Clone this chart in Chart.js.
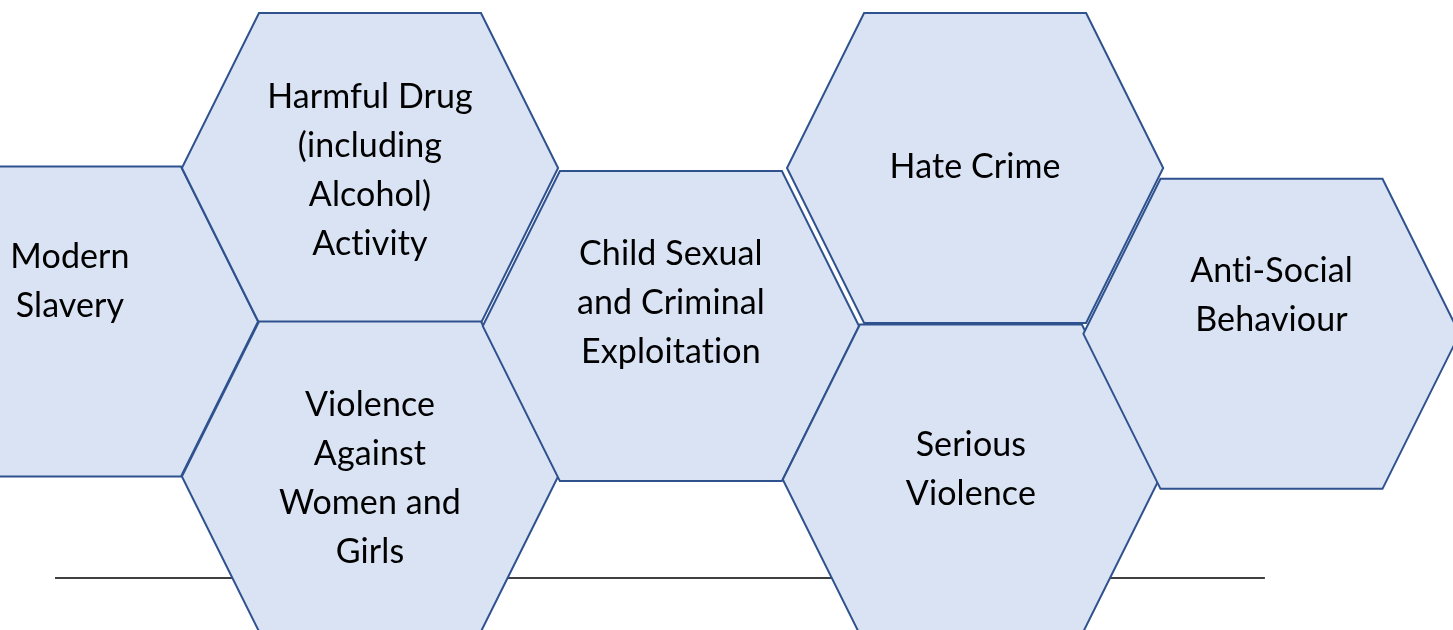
<!DOCTYPE html>
<html lang="en">
<head>
    <meta charset="UTF-8">
    <title>Community Safety Priorities</title>
    <style>
        body {
            margin: 0;
            padding: 0;
            background-color: #fff;
        }

        #wrap {
            width: 1453px;
            height: 630px;
            position: relative;
        }
    </style>
    <script src="https://cdn.jsdelivr.net/npm/chart.js"></script>
</head>
<body>
    <div id="wrap">
        <canvas id="hexChart" width="1453" height="630"></canvas>
    </div>

    <script>
        // Topics shown in the honeycomb, one label (split in lines) per cell
        const topics = [
            ['Modern', 'Slavery'],
            ['Harmful Drug', '(including', 'Alcohol)', 'Activity'],
            ['Violence', 'Against', 'Women and', 'Girls'],
            ['Child Sexual', 'and Criminal', 'Exploitation'],
            ['Hate Crime'],
            ['Serious', 'Violence'],
            ['Anti-Social', 'Behaviour']
        ];
        // Cell centres in honeycomb units (column, half-row)
        const cellCol = [0, 1, 1, 2.003, 3.017, 3.003, 4.005];
        const cellRow = [0.99, 0, 1.99, 1.02, 0, 2.01, 1.07];
        // Where the label block sits in each cell (half-row units)
        const labelRow = [0.733, 0.018, 2.003, 0.873, -0.007, 1.943, 0.823];

        // Horizontal rule behind the cells
        const ruleCol = [-0.05, 3.983];
        const ruleRow = 2.645;

        // Hexagon shape: half width, half top edge (column units), half height (row units)
        const hexShape = { halfW: 0.627, halfTop: 0.37, halfH: 1.0 };

        const hexPlugin = {
            id: 'hexCells',
            afterDatasetsDraw(chart) {
                const ctx = chart.ctx;
                const xs = chart.scales.x;
                const ys = chart.scales.y;
                const meta = chart.getDatasetMeta(1);
                meta.data.forEach(function(pt, i) {
                    const cx = cellCol[i];
                    const cy = cellRow[i];
                    const pts = [
                        [cx - hexShape.halfTop, cy - hexShape.halfH],
                        [cx + hexShape.halfTop, cy - hexShape.halfH],
                        [cx + hexShape.halfW, cy],
                        [cx + hexShape.halfTop, cy + hexShape.halfH],
                        [cx - hexShape.halfTop, cy + hexShape.halfH],
                        [cx - hexShape.halfW, cy]
                    ];
                    ctx.save();
                    ctx.beginPath();
                    pts.forEach(function(p, j) {
                        const px = xs.getPixelForValue(p[0]);
                        const py = ys.getPixelForValue(p[1]);
                        if (j === 0) ctx.moveTo(px, py); else ctx.lineTo(px, py);
                    });
                    ctx.closePath();
                    ctx.fillStyle = '#dae3f3';
                    ctx.fill();
                    ctx.lineWidth = 2;
                    ctx.strokeStyle = '#2f528f';
                    ctx.lineJoin = 'miter';
                    ctx.stroke();
                    ctx.restore();
                });

                // labels on top of every cell
                ctx.save();
                ctx.fillStyle = '#000';
                ctx.font = '34px Lato';
                ctx.letterSpacing = '0.1px'; // keeps "ti" from turning into a ligature
                ctx.textAlign = 'center';
                ctx.textBaseline = 'middle';
                const lineH = 49;
                meta.data.forEach(function(pt, i) {
                    const lines = topics[i];
                    const tx = pt.x;
                    const ty = ys.getPixelForValue(labelRow[i]);
                    const top = ty - (lines.length - 1) * lineH / 2;
                    lines.forEach(function(t, k) {
                        ctx.fillText(t, tx, top + k * lineH);
                    });
                });
                ctx.restore();
            }
        };

        const ctx = document.getElementById('hexChart').getContext('2d');
        new Chart(ctx, {
            type: 'scatter',
            data: {
                datasets: [
                    {
                        type: 'line',
                        label: 'rule',
                        data: ruleCol.map(function(c) { return { x: c, y: ruleRow }; }),
                        borderColor: '#000',
                        borderWidth: 1.5,
                        pointRadius: 0,
                        fill: false
                    },
                    {
                        label: 'cells',
                        data: cellCol.map(function(c, i) { return { x: c, y: cellRow[i] }; }),
                        pointRadius: 0,
                        pointHoverRadius: 0
                    }
                ]
            },
            options: {
                responsive: false,
                maintainAspectRatio: false,
                animation: false,
                layout: { padding: 0 },
                plugins: {
                    legend: { display: false },
                    tooltip: { enabled: false }
                },
                scales: {
                    x: { type: 'linear', display: false, min: -0.2333, max: 4.61 },
                    y: { type: 'linear', display: false, reverse: true, min: -1.0839, max: 2.9806 }
                }
            },
            plugins: [hexPlugin]
        });
    </script>
</body>
</html>
